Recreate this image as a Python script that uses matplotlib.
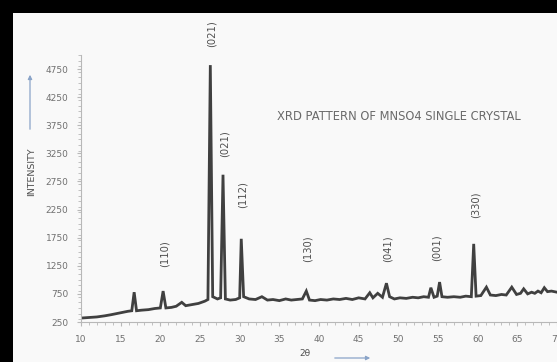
import matplotlib
matplotlib.use("Agg")
import matplotlib.pyplot as plt
from matplotlib.patches import Rectangle, FancyArrowPatch
from matplotlib.ticker import MultipleLocator

# XRD scan: 2theta (deg) and intensity (counts)
two_theta = [10.0, 11.0, 12.0, 13.0, 13.8, 14.5, 15.2, 15.9, 16.4, 16.7, 17.0,
             17.6, 18.5, 19.3, 20.0, 20.35, 20.7, 21.4, 22.0, 22.7, 23.2,
             24.0, 24.8, 25.6, 26.0, 26.3, 26.6, 27.2, 27.6, 27.9, 28.2,
             28.8, 29.5, 30.0, 30.2, 30.5, 31.2, 32.0, 32.8, 33.5, 34.2,
             35.0, 35.8, 36.5, 37.2, 37.9, 38.4, 38.8, 39.5, 40.2, 41.0,
             41.8, 42.6, 43.4, 44.2, 45.0, 45.8, 46.4, 46.8, 47.4, 48.0,
             48.5, 48.9, 49.5, 50.2, 51.0, 51.8, 52.5, 53.2, 53.8, 54.1,
             54.5, 54.9, 55.2, 55.5, 56.2, 57.0, 57.8, 58.5, 59.2, 59.5,
             59.8, 60.4, 61.1, 61.6, 62.3, 63.0, 63.6, 64.3, 64.9, 65.4,
             65.8, 66.3, 66.8, 67.2, 67.6, 68.0, 68.4, 68.8, 69.3, 70.0]
intensity = [320, 330, 340, 360, 380, 400, 420, 440, 450, 780, 450,
             460, 470, 490, 500, 800, 500, 510, 530, 600, 540,
             560, 580, 620, 650, 4820, 700, 660, 680, 2870, 660,
             640, 650, 680, 1730, 700, 660, 650, 700, 640, 650,
             630, 660, 640, 650, 660, 800, 640, 630, 650, 640,
             660, 650, 670, 650, 680, 660, 770, 680, 760, 690,
             940, 700, 660, 680, 670, 690, 680, 700, 690, 860,
             690, 710, 960, 700, 690, 700, 690, 710, 700, 1640,
             710, 720, 870, 730, 720, 740, 730, 870, 740, 760,
             840, 750, 780, 760, 800, 770, 860, 790, 800, 780]

# Miller index labels: (2theta, label centre intensity, text)
peak_pos = [26.3, 27.9, 30.2, 20.35, 38.4, 48.5, 54.6, 59.5]
peak_lab_y = [5380, 3420, 2520, 1470, 1560, 1560, 1570, 2330]
peak_text = ["(021)", "(021)", "(112)", "(110)", "(130)", "(041)", "(001)", "(330)"]

y_ticks = [250, 750, 1250, 1750, 2250, 2750, 3250, 3750, 4250, 4750]
x_ticks = [10, 15, 20, 25, 30, 35, 40, 45, 50, 55, 60, 65, 70]

W, H = 557, 362
fig = plt.figure(figsize=(W / 100, H / 100), dpi=100, facecolor="#f9f9f9")

# black frame remnants on top and left
fig.add_artist(Rectangle((0, 1 - 13 / H), 1, 13 / H, transform=fig.transFigure,
                         facecolor="black", edgecolor="none"))
fig.add_artist(Rectangle((0, 0), 13 / W, 1, transform=fig.transFigure,
                         facecolor="black", edgecolor="none"))

ax = fig.add_axes([81 / W, 40 / H, (W - 81) / W, (322 - 55) / H])
ax.set_facecolor("none")
ax.plot(two_theta, intensity, color="#404040", lw=2.0, solid_joinstyle="miter")
ax.set_xlim(10, 70)
ax.set_ylim(250, 5000)

for s in ["top", "right"]:
    ax.spines[s].set_visible(False)
for s in ["left", "bottom"]:
    ax.spines[s].set_color("#b8b8b8")
    ax.spines[s].set_linewidth(0.8)

ax.set_xticks(x_ticks)
ax.set_yticks(y_ticks)
ax.xaxis.set_minor_locator(MultipleLocator(1))
ax.yaxis.set_minor_locator(MultipleLocator(100))
ax.tick_params(which="major", length=3, color="#b8b8b8", labelsize=6.5,
               labelcolor="#707070")
ax.tick_params(which="minor", length=2, color="#b8b8b8")
ax.tick_params(axis="x", pad=6)
ax.tick_params(axis="y", pad=6)

for xp, yp, t in zip(peak_pos, peak_lab_y, peak_text):
    ax.text(xp + 0.2, yp, t, rotation=90, ha="center", va="center",
            fontsize=7.2, color="#505050", clip_on=False)

fig.text(277 / W, 1 - 117 / H, "XRD PATTERN OF MNSO4 SINGLE CRYSTAL",
         fontsize=8.3, color="#6a6a6a", va="center", ha="left")

# y label with upward arrow
fig.text(32 / W, 1 - 172 / H, "INTENSITY", rotation=90, fontsize=6.8,
         color="#505050", ha="center", va="center")
fig.add_artist(FancyArrowPatch((30 / W, 1 - 132 / H), (30 / W, 1 - 72 / H),
                               transform=fig.transFigure, arrowstyle="-|>",
                               mutation_scale=6, color="#8aa4c8", lw=0.9))

# x label with right arrow
fig.text(305 / W, 1 - 353 / H, "2θ", fontsize=6.5, color="#505050",
         ha="center", va="center")
fig.add_artist(FancyArrowPatch((332 / W, 1 - 358 / H), (373 / W, 1 - 358 / H),
                               transform=fig.transFigure, arrowstyle="-|>",
                               mutation_scale=6, color="#8aa4c8", lw=0.9))

fig.savefig("out.png", dpi=100, facecolor=fig.get_facecolor())
